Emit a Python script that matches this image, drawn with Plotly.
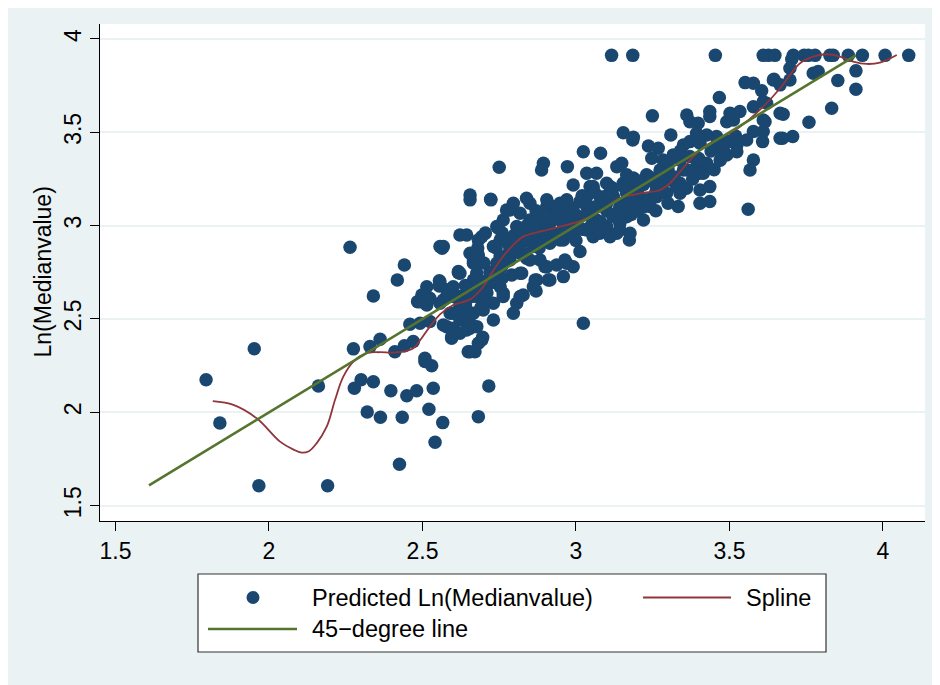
import plotly.graph_objects as go

# ---------------- data ----------------
fitted = [1.795, 1.840, 1.952, 1.967, 2.161, 2.191, 2.264, 2.275, 2.300, 2.278,
          2.340, 2.320, 2.363, 2.329, 2.362, 2.410, 2.397, 2.449, 2.481, 2.434,
          2.425, 2.521, 2.535, 2.566, 2.541, 2.508, 2.530, 2.441, 2.470, 2.459,
          2.492, 2.524, 2.568, 2.600, 2.595, 2.622, 2.655, 2.649, 2.671, 2.682,
          2.484, 2.340, 2.514, 2.557, 2.600, 2.622, 2.666, 2.418, 2.441, 2.564,
          2.617, 2.555, 2.555, 2.514, 2.498, 2.492, 2.524, 2.600, 2.579, 2.622,
          2.644, 2.655, 2.655, 2.655, 2.666, 2.666, 2.644, 2.655, 2.579, 2.682,
          2.677, 2.682, 2.723, 2.818, 2.785, 2.850, 2.905, 2.948, 2.991, 3.035,
          2.693, 2.742, 2.763, 2.753, 2.796, 2.682, 2.742, 2.785, 2.818, 2.839,
          2.861, 2.894, 2.926, 2.959, 3.013, 2.991, 3.035, 3.056, 2.899, 2.937,
          2.964, 2.910, 2.959, 2.867, 2.861, 2.823, 2.791, 2.758, 2.753, 2.763,
          2.828, 2.807, 2.796, 2.731, 2.731, 2.698, 2.687, 2.666, 2.617, 2.557,
          2.633, 2.519, 2.568, 2.622, 2.590, 2.633, 2.595, 2.644, 2.693, 2.655,
          3.024, 2.508, 3.024, 3.080, 3.185, 2.750, 2.894, 2.888, 2.972, 3.035,
          3.067, 3.149, 3.133, 2.722, 2.991, 3.056, 3.100, 3.154, 2.839, 2.796,
          2.774, 2.905, 2.926, 2.970, 3.013, 3.078, 3.122, 3.165, 3.187, 3.198,
          3.165, 3.143, 3.100, 3.067, 3.013, 2.991, 2.948, 2.915, 2.883, 2.850,
          2.807, 2.747, 2.705, 2.568, 2.731, 2.774, 2.883, 2.915, 2.948, 2.980,
          3.078, 3.111, 3.143, 3.174, 2.970, 2.991, 2.905, 2.883, 2.915, 2.872,
          2.850, 2.828, 2.818, 2.870, 2.818, 2.763, 2.720, 2.677, 2.622, 2.666,
          2.677, 2.753, 2.557, 2.579, 2.622, 2.696, 2.677, 3.249, 3.154, 3.187,
          3.309, 3.361, 3.371, 3.398, 3.436, 3.436, 3.467, 3.502, 3.491, 3.534,
          3.551, 3.578, 3.605, 3.645, 3.578, 3.621, 3.616, 3.665, 3.578, 3.610,
          3.608, 3.665, 3.556, 3.524, 3.491, 3.458, 3.426, 3.393, 3.371, 3.404,
          3.458, 3.491, 3.524, 3.578, 3.567, 3.561, 3.236, 3.268, 3.247, 3.284,
          3.317, 3.350, 3.339, 3.371, 3.350, 3.393, 3.426, 3.415, 3.436, 3.404,
          3.436, 3.404, 3.333, 3.274, 3.306, 3.339, 3.339, 3.295, 3.263, 3.225,
          3.241, 3.176, 3.111, 3.046, 3.035, 3.143, 3.176, 3.133, 3.187, 3.230,
          3.165, 3.116, 3.185, 3.454, 3.610, 3.627, 3.648, 3.708, 3.743, 3.757,
          3.779, 3.827, 3.838, 3.887, 3.933, 4.007, 4.084, 3.703, 3.697, 3.773,
          3.789, 3.697, 3.643, 3.665, 3.853, 3.912, 3.912, 3.833, 3.759, 3.675,
          3.610, 3.610, 3.706, 3.673, 3.513, 3.328, 2.716, 3.000, 3.050, 3.100,
          3.150, 3.200, 3.250, 3.030, 3.080, 3.120, 3.200, 3.220, 3.260, 3.280,
          3.300, 3.120, 3.180, 3.050, 2.970, 2.930, 2.870, 2.820, 2.860, 2.900,
          2.800, 2.780, 2.720, 2.700, 2.740, 2.760, 2.680, 2.640, 2.600, 2.710,
          2.730, 3.220, 3.260, 3.300, 3.360, 3.380, 3.450, 3.470, 3.500,
          2.620, 2.640, 2.660, 2.680, 2.700, 2.720, 2.690, 2.710, 2.740, 2.760,
          2.780, 2.800, 2.820, 2.840, 2.860, 2.880, 2.900, 2.920, 2.940, 2.960,
          2.980, 2.840, 2.880, 2.920, 2.960, 3.000, 3.020, 3.040, 3.060, 3.080,
          3.100, 3.120, 3.140, 3.160, 3.180, 3.200, 3.220, 3.240, 3.260, 3.280,
          3.160, 3.200, 3.240, 3.100, 3.060, 3.020, 3.320, 3.360, 3.400, 3.440,
          3.480, 3.520, 3.400, 3.460, 3.300, 3.340]
ln_medv = [2.174, 1.943, 2.341, 1.607, 2.141, 1.607, 2.884, 2.340, 2.174, 2.129,
           2.164, 2.002, 1.974, 2.352, 2.392, 2.325, 2.116, 2.089, 2.116, 1.974,
           1.722, 2.016, 2.129, 1.945, 1.840, 2.272, 2.250, 2.357, 2.379, 2.472,
           2.477, 2.486, 2.468, 2.450, 2.397, 2.424, 2.450, 2.325, 2.325, 1.977,
           2.593, 2.623, 2.575, 2.584, 2.531, 2.495, 2.531, 2.709, 2.789, 2.879,
           2.748, 2.705, 2.677, 2.673, 2.629, 2.593, 2.611, 2.673, 2.620, 2.950,
           2.950, 3.164, 3.138, 2.852, 2.799, 2.709, 2.548, 2.477, 2.459, 2.923,
           2.620, 2.370, 3.138, 3.066, 3.084, 3.120, 3.102, 3.120, 3.084, 3.102,
           2.941, 2.995, 3.030, 2.923, 2.941, 2.843, 2.799, 2.816, 2.852, 2.825,
           2.888, 2.923, 2.959, 2.923, 2.861, 2.959, 2.977, 2.941, 2.780, 2.789,
           2.816, 2.709, 2.727, 2.709, 2.673, 2.745, 2.736, 2.780, 2.673, 2.638,
           2.629, 2.584, 2.531, 2.584, 2.495, 2.548, 2.638, 2.691, 2.754, 2.700,
           2.620, 2.602, 2.602, 2.566, 2.531, 2.513, 2.405, 2.441, 2.388, 2.325,
           2.477, 2.290, 3.396, 3.388, 3.459, 3.313, 3.334, 3.298, 3.316, 3.281,
           3.281, 3.334, 3.316, 3.141, 3.218, 3.209, 3.227, 3.227, 3.147, 3.120,
           3.084, 3.138, 3.102, 3.138, 3.129, 3.155, 3.155, 3.173, 3.209, 3.084,
           3.048, 3.013, 2.995, 3.030, 3.048, 3.013, 3.030, 3.013, 3.048, 3.030,
           2.995, 2.986, 2.960, 2.888, 2.888, 2.923, 2.941, 2.906, 2.923, 2.959,
           2.959, 2.941, 2.977, 2.923, 2.799, 2.780, 2.780, 2.816, 2.709, 2.709,
           2.816, 2.852, 2.745, 2.650, 2.620, 2.620, 2.691, 2.673, 2.745, 2.816,
           2.745, 2.834, 2.888, 2.656, 2.620, 2.402, 2.459, 3.588, 3.498, 3.473,
           3.486, 3.593, 3.557, 3.548, 3.611, 3.584, 3.686, 3.602, 3.557, 3.611,
           3.766, 3.763, 3.723, 3.784, 3.637, 3.656, 3.557, 3.602, 3.504, 3.504,
           3.450, 3.468, 3.459, 3.432, 3.450, 3.477, 3.486, 3.495, 3.450, 3.441,
           3.415, 3.379, 3.396, 3.352, 3.298, 3.088, 3.427, 3.415, 3.361, 3.352,
           3.379, 3.432, 3.352, 3.370, 3.298, 3.316, 3.334, 3.281, 3.209, 3.191,
           3.129, 3.120, 3.102, 3.298, 3.245, 3.227, 3.173, 3.173, 3.155, 3.138,
           3.102, 3.120, 3.209, 3.209, 3.155, 3.102, 2.959, 2.959, 3.255, 3.272,
           3.272, 3.912, 3.912, 3.912, 3.912, 3.912, 3.912, 3.912, 3.912, 3.912,
           3.912, 3.912, 3.912, 3.912, 3.912, 3.912, 3.912, 3.891, 3.843, 3.816,
           3.825, 3.780, 3.780, 3.754, 3.777, 3.829, 3.731, 3.629, 3.554, 3.597,
           3.664, 3.566, 3.477, 3.468, 3.566, 3.209, 2.141, 3.000, 3.050, 3.080,
           3.100, 3.120, 3.150, 3.120, 3.120, 3.200, 3.180, 3.220, 3.220, 3.260,
           3.300, 3.050, 3.160, 3.000, 3.050, 3.060, 3.080, 2.900, 2.950, 2.980,
           2.880, 2.850, 2.750, 2.800, 2.880, 2.960, 2.880, 2.680, 2.620, 2.600,
           2.700, 3.030, 3.080, 3.120, 3.200, 3.250, 3.300, 3.350, 3.450,
           2.600, 2.580, 2.620, 2.660, 2.700, 2.720, 2.560, 2.640, 2.740, 2.720,
           2.900, 2.950, 2.970, 3.000, 3.020, 2.980, 3.020, 3.050, 3.080, 3.000,
           3.100, 2.920, 2.880, 2.960, 2.980, 2.920, 2.980, 3.060, 3.100, 3.020,
           3.120, 3.160, 3.080, 3.120, 3.060, 3.080, 3.100, 3.140, 3.180, 3.200,
           3.200, 3.240, 3.260, 3.160, 3.180, 3.160, 3.260, 3.300, 3.360, 3.400,
           3.420, 3.480, 3.280, 3.460, 3.340, 3.400]

spline_x = [1.817, 1.884, 1.960, 2.036, 2.080, 2.106, 2.130, 2.155, 2.188, 2.215,
            2.242, 2.275, 2.318, 2.360, 2.400, 2.438, 2.470, 2.497, 2.524, 2.557,
            2.600, 2.655, 2.698, 2.725, 2.758, 2.791, 2.828, 2.883, 2.948, 3.013,
            3.078, 3.143, 3.209, 3.274, 3.306, 3.339, 3.382, 3.426, 3.480, 3.534,
            3.599, 3.665, 3.697, 3.730, 3.773, 3.817, 3.860, 3.903, 3.947, 3.990,
            4.045]
spline_y = [2.060, 2.040, 1.968, 1.843, 1.800, 1.784, 1.792, 1.834, 1.923, 2.066,
            2.191, 2.272, 2.317, 2.322, 2.320, 2.325, 2.343, 2.397, 2.459, 2.525,
            2.575, 2.605, 2.673, 2.745, 2.825, 2.888, 2.941, 2.968, 2.995, 3.024,
            3.075, 3.147, 3.173, 3.191, 3.227, 3.289, 3.370, 3.432, 3.477, 3.530,
            3.620, 3.736, 3.807, 3.870, 3.905, 3.918, 3.905, 3.879, 3.866, 3.873,
            3.914]

line45 = [1.609, 3.912]

tick_vals = [1.5, 2, 2.5, 3, 3.5, 4]
tick_text = ["1.5", "2", "2.5", "3", "3.5", "4"]

legend_labels = ["Predicted Ln(Medianvalue)", "Spline", "45\u2212degree line"]
y_title = "Ln(Medianvalue)"

# ---------------- styling ----------------
NAVY = "#1A476F"
MAROON = "#90353B"
GREEN = "#55752F"
BG = "#EAF2F3"
FONT = "Liberation Sans, Arial, Helvetica, sans-serif"
FS = 23
FS_LEG = 23.5

# page offset of the figure (body margin)
OFF = 8
W, H = 940, 685
# plot area in page pixels: x 100..925, y 24..521
PL, PR, PT, PB = 100, 925, 24, 521
L = PL - OFF
R = W - (PR - OFF)
T = PT - OFF
B = H - (PB - OFF)
PW, PH = PR - PL, PB - PT


def px(xp):
    return (xp - PL) / PW


def py(yp):
    return (PB - yp) / PH


fig = go.Figure()
fig.add_trace(go.Scatter(x=fitted, y=ln_medv, mode="markers",
                         marker=dict(color=NAVY, size=13.5, line=dict(width=0)),
                         name=legend_labels[0], showlegend=False))
fig.add_trace(go.Scatter(x=spline_x, y=spline_y, mode="lines",
                         line=dict(color=MAROON, width=1.8, shape="spline"),
                         name=legend_labels[1], showlegend=False))
fig.add_trace(go.Scatter(x=line45, y=line45, mode="lines",
                         line=dict(color=GREEN, width=2.6),
                         name=legend_labels[2], showlegend=False))

shapes = [
    # legend box
    dict(type="rect", xref="paper", yref="paper", x0=px(198), x1=px(826),
         y0=py(652), y1=py(574), fillcolor="white",
         line=dict(color="#333333", width=1.2)),
    # legend marker
    dict(type="circle", xref="paper", yref="paper", x0=px(246.5), x1=px(259.5),
         y0=py(604), y1=py(591), fillcolor=NAVY, line=dict(width=0)),
    # legend spline line
    dict(type="line", xref="paper", yref="paper", x0=px(643), x1=px(731),
         y0=py(597.5), y1=py(597.5), line=dict(color=MAROON, width=1.8)),
    # legend 45 line
    dict(type="line", xref="paper", yref="paper", x0=px(208), x1=px(297),
         y0=py(629), y1=py(629), line=dict(color=GREEN, width=2.6)),
]

annotations = [
    dict(text=legend_labels[0], xref="paper", yref="paper", x=px(310), y=py(597.5),
         xanchor="left", yanchor="middle", showarrow=False,
         font=dict(family=FONT, size=FS_LEG, color="black")),
    dict(text=legend_labels[1], xref="paper", yref="paper", x=px(744), y=py(597.5),
         xanchor="left", yanchor="middle", showarrow=False,
         font=dict(family=FONT, size=FS_LEG, color="black")),
    dict(text=legend_labels[2], xref="paper", yref="paper", x=px(310), y=py(629),
         xanchor="left", yanchor="middle", showarrow=False,
         font=dict(family=FONT, size=FS_LEG, color="black")),
    dict(text=y_title, xref="paper", yref="paper", x=px(42), y=0.5,
         xanchor="center", yanchor="middle", textangle=-90, showarrow=False,
         font=dict(family=FONT, size=FS, color="black")),
]

fig.update_layout(
    width=W, height=H,
    margin=dict(l=L, r=R, t=T, b=B, pad=0),
    paper_bgcolor=BG, plot_bgcolor="white",
    showlegend=False,
    font=dict(family=FONT, size=FS, color="black"),
    shapes=shapes, annotations=annotations,
    xaxis=dict(range=[1.4495, 4.137], tickvals=tick_vals, ticktext=tick_text,
               showgrid=False, zeroline=False, showline=True, linecolor="black",
               linewidth=1.2, ticks="outside", ticklen=9, tickwidth=1.2,
               tickcolor="black", tickfont=dict(family=FONT, size=FS, color="black")),
    yaxis=dict(range=[1.418, 4.080], tickvals=tick_vals, ticktext=tick_text,
               showgrid=True, gridcolor=BG, gridwidth=1.6, zeroline=False,
               showline=True, linecolor="black", linewidth=1.2, ticks="outside",
               ticklen=9, tickwidth=1.2, tickcolor="black", tickangle=-90,
               ticklabelstandoff=0,
               tickfont=dict(family=FONT, size=FS, color="black")),
)

fig.write_html("out.html")
